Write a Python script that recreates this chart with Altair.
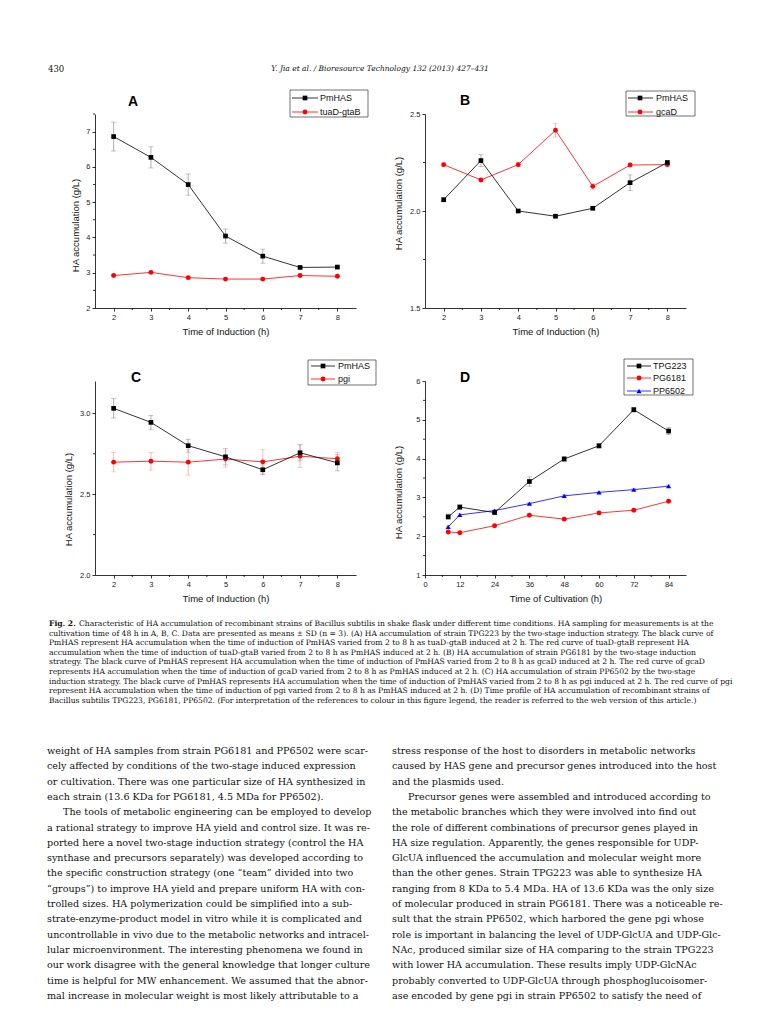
import altair as alt
import pandas as pd

SANS = "Liberation Sans"
SERIF = "DejaVu Serif"

# ---------------- data ----------------
induction_h = [2, 3, 4, 5, 6, 7, 8]
cultivation_h = [8, 12, 24, 36, 48, 60, 72, 84]

a_pmhas = [6.86, 6.27, 5.50, 4.04, 3.47, 3.15, 3.16]
a_pmhas_sd = [0.41, 0.30, 0.30, 0.20, 0.20, 0.03, 0.03]
a_tuad = [2.92, 3.01, 2.86, 2.82, 2.82, 2.92, 2.90]
a_tuad_sd = [0.03, 0.03, 0.03, 0.03, 0.03, 0.03, 0.03]

b_pmhas = [2.058, 2.260, 2.000, 1.973, 2.014, 2.146, 2.250]
b_pmhas_sd = [0.010, 0.030, 0.006, 0.006, 0.006, 0.040, 0.006]
b_gcad = [2.239, 2.160, 2.239, 2.416, 2.127, 2.237, 2.239]
b_gcad_sd = [0.010, 0.006, 0.010, 0.035, 0.015, 0.006, 0.006]

c_pmhas = [3.031, 2.944, 2.800, 2.731, 2.651, 2.756, 2.694]
c_pmhas_sd = [0.060, 0.043, 0.040, 0.050, 0.030, 0.050, 0.050]
c_pgi = [2.698, 2.704, 2.698, 2.717, 2.700, 2.735, 2.719]
c_pgi_sd = [0.060, 0.055, 0.080, 0.050, 0.075, 0.070, 0.040]

d_tpg223 = [2.50, 2.75, 2.61, 3.41, 3.99, 4.33, 5.26, 4.71]
d_tpg223_sd = [0.07, 0.06, 0.04, 0.12, 0.06, 0.06, 0.06, 0.09]
d_pg6181 = [2.11, 2.09, 2.27, 2.54, 2.44, 2.60, 2.67, 2.90]
d_pg6181_sd = [0.03, 0.03, 0.03, 0.03, 0.03, 0.03, 0.03, 0.03]
d_pp6502 = [2.24, 2.55, 2.66, 2.84, 3.04, 3.13, 3.20, 3.29]
d_pp6502_sd = [0.03, 0.03, 0.03, 0.03, 0.03, 0.03, 0.03, 0.03]

induction_ticks = [2, 3, 4, 5, 6, 7, 8]
induction_minor = [2.5, 3.5, 4.5, 5.5, 6.5, 7.5]
cultivation_ticks = [0, 12, 24, 36, 48, 60, 72, 84]
cultivation_minor = [6, 18, 30, 42, 54, 66, 78]

page_number = "430"
running_head = "Y. Jia et al. / Bioresource Technology 132 (2013) 427–431"

caption_head = "Fig. 2."
caption_lines = [
    "Characteristic of HA accumulation of recombinant strains of Bacillus subtilis in shake flask under different time conditions. HA sampling for measurements is at the",
    "cultivation time of 48 h in A, B, C. Data are presented as means ± SD (n = 3). (A) HA accumulation of strain TPG223 by the two-stage induction strategy. The black curve of",
    "PmHAS represent HA accumulation when the time of induction of PmHAS varied from 2 to 8 h as tuaD-gtaB induced at 2 h. The red curve of tuaD-gtaB represent HA",
    "accumulation when the time of induction of tuaD-gtaB varied from 2 to 8 h as PmHAS induced at 2 h. (B) HA accumulation of strain PG6181 by the two-stage induction",
    "strategy. The black curve of PmHAS represent HA accumulation when the time of induction of PmHAS varied from 2 to 8 h as gcaD induced at 2 h. The red curve of gcaD",
    "represents HA accumulation when the time of induction of gcaD varied from 2 to 8 h as PmHAS induced at 2 h. (C) HA accumulation of strain PP6502 by the two-stage",
    "induction strategy. The black curve of PmHAS represents HA accumulation when the time of induction of PmHAS varied from 2 to 8 h as pgi induced at 2 h. The red curve of pgi",
    "represent HA accumulation when the time of induction of pgi varied from 2 to 8 h as PmHAS induced at 2 h. (D) Time profile of HA accumulation of recombinant strains of",
    "Bacillus subtilis TPG223, PG6181, PP6502. (For interpretation of the references to colour in this figure legend, the reader is referred to the web version of this article.)",
]

left_col = [
    "weight of HA samples from strain PG6181 and PP6502 were scar-",
    "cely affected by conditions of the two-stage induced expression",
    "or cultivation. There was one particular size of HA synthesized in",
    "each strain (13.6 KDa for PG6181, 4.5 MDa for PP6502).",
    "The tools of metabolic engineering can be employed to develop",
    "a rational strategy to improve HA yield and control size. It was re-",
    "ported here a novel two-stage induction strategy (control the HA",
    "synthase and precursors separately) was developed according to",
    "the specific construction strategy (one “team” divided into two",
    "“groups”) to improve HA yield and prepare uniform HA with con-",
    "trolled sizes. HA polymerization could be simplified into a sub-",
    "strate-enzyme-product model in vitro while it is complicated and",
    "uncontrollable in vivo due to the metabolic networks and intracel-",
    "lular microenvironment. The interesting phenomena we found in",
    "our work disagree with the general knowledge that longer culture",
    "time is helpful for MW enhancement. We assumed that the abnor-",
    "mal increase in molecular weight is most likely attributable to a",
]
left_indent = [4]

right_col = [
    "stress response of the host to disorders in metabolic networks",
    "caused by HAS gene and precursor genes introduced into the host",
    "and the plasmids used.",
    "Precursor genes were assembled and introduced according to",
    "the metabolic branches which they were involved into find out",
    "the role of different combinations of precursor genes played in",
    "HA size regulation. Apparently, the genes responsible for UDP-",
    "GlcUA influenced the accumulation and molecular weight more",
    "than the other genes. Strain TPG223 was able to synthesize HA",
    "ranging from 8 KDa to 5.4 MDa. HA of 13.6 KDa was the only size",
    "of molecular produced in strain PG6181. There was a noticeable re-",
    "sult that the strain PP6502, which harbored the gene pgi whose",
    "role is important in balancing the level of UDP-GlcUA and UDP-Glc-",
    "NAc, produced similar size of HA comparing to the strain TPG223",
    "with lower HA accumulation. These results imply UDP-GlcNAc",
    "probably converted to UDP-GlcUA through phosphoglucoisomer-",
    "ase encoded by gene pgi in strain PP6502 to satisfy the need of",
]
right_indent = [3]

W, H = 261, 194
ONE = pd.DataFrame({"v": [0]})


def series(name, vals, sd, color, errcolor, shape, size):
    return dict(name=name, vals=vals, sd=sd, color=color, errcolor=errcolor,
                shape=shape, size=size)


panels = [
    dict(letter="A", letter_xy=(38, -12), xs=induction_h,
         xdom=[1.5, 8.5], xticks=induction_ticks, xminor=induction_minor,
         ydom=[2, 7.5], yticks=[2, 3, 4, 5, 6, 7], yminor=[2.5, 3.5, 4.5, 5.5, 6.5, 7.5],
         yfmt="d", xtitle="Time of Induction (h)", ytitle_xy=(-20, 111),
         box=(195, 273, -24, 3), entry_y=[-16, -2], line_x=(197, 223), mark_x=210, text_x=225,
         series=[series("PmHAS", a_pmhas, a_pmhas_sd, "black", "#8c8c8c", "square", 22),
                 series("tuaD-gtaB", a_tuad, a_tuad_sd, "#ff0000", "#f39a9a", "circle", 24)]),
    dict(letter="B", letter_xy=(40, -13), xs=induction_h,
         xdom=[1.5, 8.5], xticks=induction_ticks, xminor=induction_minor,
         ydom=[1.5, 2.5], yticks=[1.5, 2.0, 2.5], yminor=[1.75, 2.25],
         yfmt=".1f", xtitle="Time of Induction (h)", ytitle_xy=(-27, 89),
         box=(201, 270, -23, 2), entry_y=[-16, -2], line_x=(203, 228), mark_x=215, text_x=231,
         series=[series("PmHAS", b_pmhas, b_pmhas_sd, "black", "#8c8c8c", "square", 22),
                 series("gcaD", b_gcad, b_gcad_sd, "#ff0000", "#f39a9a", "circle", 24)]),
    dict(letter="C", letter_xy=(41, -3), xs=induction_h,
         xdom=[1.5, 8.5], xticks=induction_ticks, xminor=induction_minor,
         ydom=[2.0, 3.2], yticks=[2.0, 2.5, 3.0], yminor=[2.25, 2.75],
         yfmt=".1f", xtitle="Time of Induction (h)", ytitle_xy=(-27, 118),
         box=(213, 281, -21, 4), entry_y=[-15, -2], line_x=(216, 240), mark_x=228, text_x=243,
         series=[series("PmHAS", c_pmhas, c_pmhas_sd, "black", "#8c8c8c", "square", 22),
                 series("pgi", c_pgi, c_pgi_sd, "#ff0000", "#f39a9a", "circle", 24)]),
    dict(letter="D", letter_xy=(40, -3), xs=cultivation_h,
         xdom=[0, 90], xticks=cultivation_ticks, xminor=cultivation_minor,
         ydom=[1, 6], yticks=[1, 2, 3, 4, 5, 6], yminor=[1.5, 2.5, 3.5, 4.5, 5.5],
         yfmt="d", xtitle="Time of Cultivation (h)", ytitle_xy=(-27, 111),
         box=(199, 268, -22, 14), entry_y=[-15, -3, 10], line_x=(202, 226), mark_x=214, text_x=228,
         series=[series("TPG223", d_tpg223, d_tpg223_sd, "black", "#8c8c8c", "square", 22),
                 series("PG6181", d_pg6181, d_pg6181_sd, "#ff0000", "#f39a9a", "circle", 24),
                 series("PP6502", d_pp6502, d_pp6502_sd, "#0000ff", "#9a9af3", "triangle-up", 26)]),
]


def make_panel(p):
    xscale = alt.Scale(domain=p["xdom"], nice=False, zero=False)
    yscale = alt.Scale(domain=p["ydom"], nice=False, zero=False)
    common = dict(labelFont=SANS, labelFontSize=7.5, labelColor="#222222",
                  titleFont=SANS, titleFontSize=9.5, titleFontWeight="normal",
                  titleColor="#111111", tickSize=3, tickWidth=0.8, tickColor="black",
                  domainColor="black", domainWidth=0.8, grid=False, labelPadding=2)
    xaxis = alt.Axis(values=p["xticks"], format="d", title=p["xtitle"],
                     titleX=W / 2, titleY=23, titleBaseline="middle", titleAlign="center",
                     labelFlush=False, **common)
    tx, ty = p["ytitle_xy"]
    yaxis = alt.Axis(values=p["yticks"], format=p["yfmt"], title="HA accumulation (g/L)",
                     titleX=tx, titleY=ty, titleAngle=270, titleBaseline="middle",
                     titleAlign="center", **common)

    layers = []
    layers.append(
        alt.Chart(pd.DataFrame({"m": p["xminor"]}))
        .mark_rule(color="black", strokeWidth=0.8)
        .encode(x=alt.X("m:Q", scale=xscale, axis=xaxis), y=alt.value(H), y2=alt.value(H + 2))
    )
    layers.append(
        alt.Chart(pd.DataFrame({"m": p["yminor"]}))
        .mark_rule(color="black", strokeWidth=0.8)
        .encode(y=alt.Y("m:Q", scale=yscale, axis=yaxis), x=alt.value(0), x2=alt.value(-2))
    )

    err_layers, line_layers, point_layers = [], [], []
    for s in p["series"]:
        df = pd.DataFrame({"x": p["xs"], "y": s["vals"], "sd": s["sd"]})
        base = alt.Chart(df).transform_calculate(lo="datum.y - datum.sd", hi="datum.y + datum.sd")
        X = alt.X("x:Q", scale=xscale, axis=xaxis)
        err_layers.append(base.mark_rule(color=s["errcolor"], strokeWidth=0.7).encode(
            x=X, y=alt.Y("lo:Q", scale=yscale, axis=yaxis), y2="hi:Q"))
        for f in ("lo", "hi"):
            err_layers.append(base.mark_tick(color=s["errcolor"], orient="horizontal", size=5,
                                             thickness=0.7).encode(
                x=X, y=alt.Y(f + ":Q", scale=yscale, axis=yaxis)))
        line_layers.append(base.mark_line(color=s["color"], strokeWidth=0.8).encode(
            x=X, y=alt.Y("y:Q", scale=yscale, axis=yaxis)))
        point_layers.append(base.mark_point(shape=s["shape"], filled=True, size=s["size"],
                                            color=s["color"], opacity=1).encode(
            x=X, y=alt.Y("y:Q", scale=yscale, axis=yaxis)))
    layers += err_layers + line_layers[::-1] + point_layers[::-1]

    # legend box
    bx0, bx1, by0, by1 = p["box"]
    layers.append(alt.Chart(ONE).mark_rect(fill="white", stroke="#333333", strokeWidth=0.7).encode(
        x=alt.value(bx0), x2=alt.value(bx1), y=alt.value(by0), y2=alt.value(by1)))
    for s, ey in zip(p["series"], p["entry_y"]):
        l0, l1 = p["line_x"]
        layers.append(alt.Chart(ONE).mark_rule(color=s["color"], strokeWidth=0.8).encode(
            x=alt.value(l0), x2=alt.value(l1), y=alt.value(ey)))
        layers.append(alt.Chart(ONE).mark_point(shape=s["shape"], filled=True, size=s["size"],
                                                color=s["color"], opacity=1).encode(
            x=alt.value(p["mark_x"]), y=alt.value(ey)))
        layers.append(alt.Chart(ONE).mark_text(text=s["name"], align="left", baseline="middle",
                                               font=SANS, fontSize=9, color="#111111").encode(
            x=alt.value(p["text_x"]), y=alt.value(ey)))
    lx, ly = p["letter_xy"]
    layers.append(alt.Chart(ONE).mark_text(text=p["letter"], align="center", baseline="middle",
                                           font=SANS, fontSize=14, fontWeight="bold",
                                           color="black").encode(
        x=alt.value(lx), y=alt.value(ly)))
    return alt.layer(*layers).properties(width=W, height=H)


def spacer(w, h):
    return alt.Chart(ONE).mark_point(opacity=0).encode(
        x=alt.value(0), y=alt.value(0)).properties(width=w, height=h)


def text_layer(txt, x, y, size, font=SERIF, weight="normal", style="normal", align="left"):
    return alt.Chart(ONE).mark_text(text=txt, align=align, baseline="middle", font=font,
                                    fontSize=size, fontWeight=weight, fontStyle=style,
                                    color="#111111").encode(x=alt.value(x), y=alt.value(y))


COLS = [84, W, 69, W]

# header (lives in the first cell, overflowing to the right)
header = alt.layer(
    text_layer(page_number, 37, 58, 8.5),
    text_layer(running_head, 369, 58, 7.5, style="italic", align="center"),
).properties(width=COLS[0], height=103)

# caption + body text (first cell of last row, overflowing to the right)
text_layers = []
CAP_SIZE = 7.6
BODY_SIZE = 9.6
text_layers.append(text_layer(caption_head, 38, 49, CAP_SIZE, weight="bold"))
for i, line in enumerate(caption_lines):
    x = 68 if i == 0 else 38
    text_layers.append(text_layer(line, x, 49 + i * 9.6, CAP_SIZE))
for i, line in enumerate(left_col):
    x = 52 if i in left_indent else 36
    text_layers.append(text_layer(line, x, 176 + i * 15.3, BODY_SIZE))
for i, line in enumerate(right_col):
    x = 397 if i in right_indent else 381
    text_layers.append(text_layer(line, x, 176 + i * 15.3, BODY_SIZE))
body = alt.layer(*text_layers).properties(width=COLS[0], height=444)

pA, pB, pC, pD = [make_panel(p) for p in panels]

cells = (
    [header] + [spacer(w, 103) for w in COLS[1:]]
    + [spacer(COLS[0], H), pA, spacer(COLS[2], H), pB]
    + [spacer(w, 73) for w in COLS]
    + [spacer(COLS[0], H), pC, spacer(COLS[2], H), pD]
    + [body] + [spacer(w, 444) for w in COLS[1:]]
)

chart = alt.concat(*cells, columns=4, spacing=0, bounds="flush") \
    .properties(padding=0) \
    .configure_view(stroke=None)

chart.save("out.html", embed_options={"renderer": "svg", "actions": False})
